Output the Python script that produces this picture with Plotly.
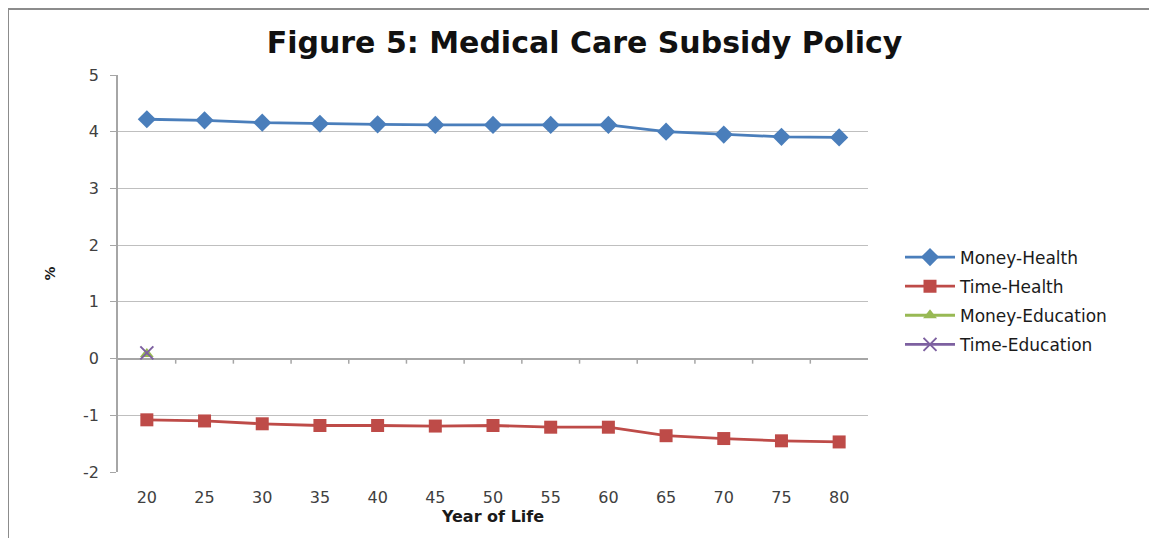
import plotly.graph_objects as go

years = ["20", "25", "30", "35", "40", "45", "50", "55", "60", "65", "70", "75", "80"]
money_health = [4.22, 4.20, 4.16, 4.14, 4.13, 4.12, 4.12, 4.12, 4.12, 4.00, 3.95, 3.91, 3.90]
time_health = [-1.08, -1.10, -1.15, -1.18, -1.18, -1.19, -1.18, -1.21, -1.21, -1.36, -1.41, -1.45, -1.47]
money_education = [0.08] + [None] * 12
time_education = [0.10] + [None] * 12

y_ticks = [-2, -1, 0, 1, 2, 3, 4, 5]
y_tick_text = ["-2", "-1", "0", "1", "2", "3", "4", "5"]

FONT = "DejaVu Sans"
W, H = 1149, 530
L, R, T, B = 110, 289, 67, 66
PW, PH = W - L - R, H - T - B

fig = go.Figure()

fig.add_trace(go.Scatter(x=years, y=money_health, name="Money-Health", mode="lines+markers",
                         legendgroup="a",
                         line=dict(color="#4A7EBB", width=2.8),
                         marker=dict(symbol="diamond", size=14, color="#4A7EBB")))
fig.add_trace(go.Scatter(x=years, y=time_health, name="Time-Health", mode="lines+markers",
                         legendgroup="b",
                         line=dict(color="#BE4B48", width=2.8),
                         marker=dict(symbol="square", size=13, color="#BE4B48")))
fig.add_trace(go.Scatter(x=years, y=money_education, name="Money-Education", mode="lines+markers",
                         legendgroup="c",
                         line=dict(color="#98B954", width=2.8),
                         marker=dict(symbol="triangle-up", size=12, color="#98B954")))
fig.add_trace(go.Scatter(x=years, y=time_education, name="Time-Education", mode="lines+markers",
                         legendgroup="d",
                         line=dict(color="#7D60A0", width=2.8),
                         marker=dict(symbol="x-thin", size=13, line=dict(color="#7D60A0", width=2))))

# tick marks on the zero-crossing horizontal axis, between categories
shapes = []
for i in range(len(years) - 1):
    shapes.append(dict(type="line", xref="x", yref="y", x0=i + 0.5, x1=i + 0.5, y0=0, y1=-0.09,
                       line=dict(color="#A6A6A6", width=1.5)))
# outer chart frame
shapes.append(dict(type="rect", xref="paper", yref="paper",
                   x0=(0 - L) / PW, x1=(W + 20 - L) / PW,
                   y0=(PH + T - (H + 20)) / PH, y1=(PH + T - 1) / PH,
                   line=dict(color="#8C8C8C", width=2), layer="below"))

fig.update_layout(
    width=W, height=H,
    margin=dict(l=L, r=R, t=T, b=B),
    paper_bgcolor="white", plot_bgcolor="white",
    font=dict(family=FONT, color="#404040"),
    title=dict(text="<b>Figure 5: Medical Care Subsidy Policy</b>", x=576.5 / W, xanchor="center",
               y=1 - 34 / H, yanchor="middle", font=dict(size=30, family=FONT, color="#111111")),
    showlegend=True,
    legend=dict(x=(892 - L) / PW, xanchor="left", y=(T + PH - 293) / PH, yanchor="middle",
                font=dict(size=17, family=FONT, color="#1a1a1a"),
                itemwidth=50, tracegroupgap=4, bgcolor="rgba(0,0,0,0)"),
    shapes=shapes,
)

fig.update_xaxes(type="category", range=[-0.5, 12.5], showgrid=False, showline=False, zeroline=False,
                 ticks="", tickfont=dict(size=16, family=FONT, color="#404040"),
                 ticklabelstandoff=14,
                 title=dict(text="<b>Year of Life</b>", font=dict(size=16, family=FONT, color="#1a1a1a"),
                            standoff=1))
fig.update_yaxes(range=[-2, 5], tickvals=y_ticks, ticktext=y_tick_text,
                 showgrid=True, gridcolor="#BFBFBF", gridwidth=1.3,
                 zeroline=True, zerolinecolor="#A6A6A6", zerolinewidth=1.5,
                 showline=True, linecolor="#A6A6A6", linewidth=1.5,
                 ticks="outside", ticklen=6, tickcolor="#A6A6A6",
                 tickfont=dict(size=16, family=FONT, color="#404040"), ticklabelstandoff=8,
                 title=dict(text="<b>%</b>", font=dict(size=14, family=FONT, color="#1a1a1a"), standoff=24))

fig.write_html("out.html")
